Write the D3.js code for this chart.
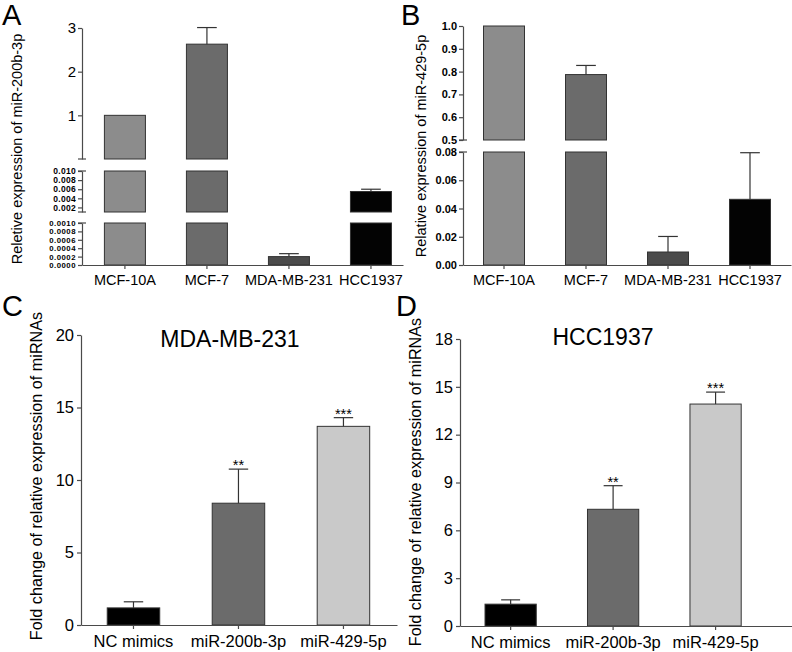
<!DOCTYPE html>
<html>
<head>
<meta charset="utf-8">
<script src="https://cdn.jsdelivr.net/npm/d3@7"></script>
<style>
  html, body { margin: 0; padding: 0; background: #fff; }
  svg { display: block; }
</style>
</head>
<body>
<div id="chart"></div>
<script>
// ---- data ----
const cellLines = ['MCF-10A', 'MCF-7', 'MDA-MB-231', 'HCC1937'];
const cellColors = ['#8c8c8c', '#6b6b6b', '#4b4b4b', '#030303'];

const mir200bMean = [1, 2.63, 0.0002, 0.0055];
const mir200bErr = [0, 0.38, 0.00007, 0.0005];

const mir429Mean = [1, 0.787, 0.0092, 0.0465];
const mir429Err = [0, 0.04, 0.011, 0.033];

const mimicGroups = ['NC mimics', 'miR-200b-3p', 'miR-429-5p'];
const mimicColors = ['#000000', '#6b6b6b', '#c9c9c9'];
const mdaFold = [1.18, 8.4, 13.7];
const mdaErr = [0.42, 2.35, 0.6];
const hccFold = [1.37, 7.32, 13.92];
const hccErr = [0.27, 1.48, 0.75];
const sigStars = ['', '**', '***'];

const ticksA = [[1, 2, 3], [0.010, 0.008, 0.006, 0.004, 0.002], [0.0010, 0.0008, 0.0006, 0.0004, 0.0002, 0.0000]];
const ticksB = [[0.5, 0.6, 0.7, 0.8, 0.9, 1.0], [0, 0.02, 0.04, 0.06, 0.08]];
const ticksC = [0, 5, 10, 15, 20];
const ticksD = [0, 3, 6, 9, 12, 15, 18];

const FONT = "'Liberation Sans', Arial, Helvetica, sans-serif";
const AXIS = '#4a4a4a';
const OUTLINE = '#333';

const svg = d3.select('#chart').append('svg').attr('width', 792).attr('height', 652);

function styleAxis(g, size, weight, spacing) {
    g.attr('font-family', FONT).attr('font-size', size);
    g.selectAll('path, line').attr('stroke', AXIS).attr('stroke-width', 1.2);
    g.selectAll('text').attr('fill', '#000').attr('font-weight', weight || 'normal')
        .attr('letter-spacing', spacing || 0);
}

function panelLetter(txt, x, y) {
    svg.append('text').attr('x', x).attr('y', y).text(txt)
        .attr('font-family', FONT).attr('font-size', 29).attr('fill', '#000');
}

function yTitle(txt, x, y, size) {
    svg.append('text').attr('transform', `translate(${x},${y}) rotate(-90)`)
        .attr('text-anchor', 'middle').text(txt)
        .attr('font-family', FONT).attr('font-size', size).attr('fill', '#000');
}

function errorBar(g, cx, y0, y1, capW) {
    g.append('line').attr('x1', cx).attr('x2', cx).attr('y1', y0).attr('y2', y1)
        .attr('stroke', OUTLINE).attr('stroke-width', 1.2);
    g.append('line').attr('x1', cx - capW / 2).attr('x2', cx + capW / 2).attr('y1', y1).attr('y2', y1)
        .attr('stroke', OUTLINE).attr('stroke-width', 1.2);
}

// bar chart whose y axis is split into several stacked segments
function drawBroken(cfg) {
    const g = svg.append('g');
    const x = d3.scaleBand().domain(cfg.cats).range(cfg.xRange)
        .paddingInner(0.5).paddingOuter(cfg.po).align(cfg.align);
    const bw = x.bandwidth();

    cfg.segments.forEach(seg => {
        const y = d3.scaleLinear().domain(seg.domain).range(seg.range);
        const ax = g.append('g').attr('transform', `translate(${cfg.xRange[0]},0)`)
            .call(d3.axisLeft(y).tickValues(seg.ticks).tickSize(4).tickSizeOuter(0)
                .tickPadding(2).tickFormat(d3.format(seg.fmt)));
        styleAxis(ax, seg.fontSize, seg.weight, seg.spacing);

        // break marks at the cut ends of the segment
        seg.breaks.forEach(v => {
            g.append('line').attr('x1', cfg.xRange[0] - 4).attr('x2', cfg.xRange[0] + 4)
                .attr('y1', y(v)).attr('y2', y(v)).attr('stroke', AXIS).attr('stroke-width', 1.2);
        });

        cfg.values.forEach((v, i) => {
            const top = Math.min(v, seg.domain[1]);
            const h = y(seg.domain[0]) - y(top);
            if (h < 1) return;
            g.append('rect')
                .attr('x', x(cfg.cats[i])).attr('width', bw)
                .attr('y', y(top)).attr('height', h)
                .attr('fill', cfg.colors[i]).attr('stroke', OUTLINE).attr('stroke-width', 1);
            if (cfg.errors[i] > 0 && v <= seg.domain[1]) {
                errorBar(g, x(cfg.cats[i]) + bw / 2, y(v), y(v + cfg.errors[i]), bw * 0.48);
            }
        });
    });

    const xa = g.append('g').attr('transform', `translate(0,${cfg.baseY})`)
        .call(d3.axisBottom(x).tickSize(4).tickSizeOuter(0).tickPadding(6));
    styleAxis(xa, 14.5);
}

// plain bar chart with one y axis, title and significance stars
function drawSimple(cfg) {
    const g = svg.append('g');
    const x = d3.scaleBand().domain(cfg.cats).range(cfg.xRange)
        .paddingInner(0.5).paddingOuter(cfg.po).align(cfg.align);
    const y = d3.scaleLinear().domain(cfg.domain).range(cfg.yRange);
    const bw = x.bandwidth();

    const ya = g.append('g').attr('transform', `translate(${cfg.xRange[0]},0)`)
        .call(d3.axisLeft(y).tickValues(cfg.ticks).tickSize(4).tickSizeOuter(0).tickPadding(3));
    styleAxis(ya, 16.5);

    cfg.values.forEach((v, i) => {
        const cx = x(cfg.cats[i]) + bw / 2;
        g.append('rect')
            .attr('x', x(cfg.cats[i])).attr('width', bw)
            .attr('y', y(v)).attr('height', y(0) - y(v))
            .attr('fill', cfg.colors[i]).attr('stroke', OUTLINE).attr('stroke-width', 1);
        const eTop = y(v + cfg.errors[i]);
        errorBar(g, cx, y(v), eTop, bw * 0.37);
        if (cfg.stars[i]) {
            g.append('text').attr('x', cx).attr('y', eTop + 1).attr('text-anchor', 'middle')
                .text(cfg.stars[i]).attr('font-family', FONT).attr('font-size', 14.5).attr('fill', '#000');
        }
    });

    const xa = g.append('g').attr('transform', `translate(0,${y(0)})`)
        .call(d3.axisBottom(x).tickSize(4).tickSizeOuter(0).tickPadding(6));
    styleAxis(xa, 16.5);

    svg.append('text').attr('x', cfg.titleX).attr('y', cfg.titleY).attr('text-anchor', 'middle')
        .text(cfg.title).attr('font-family', FONT).attr('font-size', 23).attr('fill', '#000');
}

// ---- panel A ----
panelLetter('A', 2, 25);
yTitle('Reletive expression of miR-200b-3p', 22, 149, 14.5);
drawBroken({
    cats: cellLines, values: mir200bMean, errors: mir200bErr, colors: cellColors,
    xRange: [82, 403], po: 0.207, align: 0.66, baseY: 265,
    segments: [
        { domain: [0, 3], range: [159, 28], ticks: ticksA[0], fmt: 'd', fontSize: 15, weight: 'normal', breaks: [0] },
        { domain: [0.001, 0.010], range: [212, 171], ticks: ticksA[1], fmt: '.3f', fontSize: 8.5, weight: 'bold', spacing: 0.3, breaks: [0.001, 0.010] },
        { domain: [0, 0.001], range: [265, 223], ticks: ticksA[2], fmt: '.4f', fontSize: 7.8, weight: 'bold', spacing: 0.5, breaks: [0.001] }
    ]
});

// ---- panel B ----
panelLetter('B', 401, 25);
yTitle('Relative expression of miR-429-5p', 426, 146, 14.5);
drawBroken({
    cats: cellLines, values: mir429Mean, errors: mir429Err, colors: cellColors,
    xRange: [463, 791], po: 0.25, align: 0.5, baseY: 265,
    segments: [
        { domain: [0.5, 1.0], range: [140, 26], ticks: ticksB[0], fmt: '.1f', fontSize: 11, weight: 'bold', breaks: [0.5] },
        { domain: [0, 0.08], range: [265, 152], ticks: ticksB[1], fmt: '.2f', fontSize: 11, weight: 'bold', breaks: [0.08] }
    ]
});

// ---- panel C ----
panelLetter('C', 2, 316);
yTitle('Fold change of relative expression of miRNAs', 42, 476, 16.2);
drawSimple({
    cats: mimicGroups, values: mdaFold, errors: mdaErr, colors: mimicColors, stars: sigStars,
    xRange: [81, 397], po: 0.255, align: 0.49,
    domain: [0, 20], yRange: [625, 335], ticks: ticksC,
    title: 'MDA-MB-231', titleX: 230, titleY: 347
});

// ---- panel D ----
panelLetter('D', 396, 316);
yTitle('Fold change of relative expression of miRNAs', 421, 482, 16.2);
drawSimple({
    cats: mimicGroups, values: hccFold, errors: hccErr, colors: mimicColors, stars: sigStars,
    xRange: [460, 792], po: 0.37, align: 0.33,
    domain: [0, 18], yRange: [626, 339], ticks: ticksD,
    title: 'HCC1937', titleX: 603, titleY: 345
});
</script>
</body>
</html>
